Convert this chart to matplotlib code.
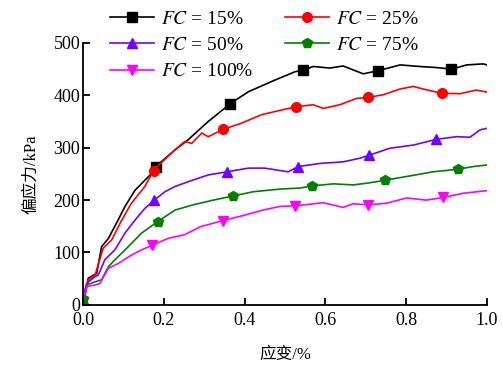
import numpy as np
import matplotlib
matplotlib.use("Agg")
import matplotlib.pyplot as plt

plt.rcParams['font.family'] = ['Liberation Serif', 'Noto Sans CJK SC']
plt.rcParams['mathtext.fontset'] = 'stix'

# strain (%) / deviator stress (kPa)
x15 = [0, 0.003, 0.013, 0.034, 0.046, 0.063, 0.087, 0.104, 0.129, 0.17, 0.18, 0.228, 0.26, 0.31, 0.368,
       0.41, 0.475, 0.525, 0.545, 0.57, 0.611, 0.644, 0.694, 0.731, 0.785, 0.834, 0.875, 0.913, 0.95, 0.991, 1.0]
y15 = [5, 10, 51, 60, 111, 127, 162, 188, 219, 251, 264, 296, 315, 350, 386,
       407, 429, 445, 448, 455, 452, 456, 441, 447, 458, 455, 453, 450, 458, 460, 458]

x25 = [0, 0.013, 0.03, 0.05, 0.071, 0.096, 0.12, 0.153, 0.177, 0.228, 0.252, 0.269, 0.294, 0.31, 0.347,
       0.393, 0.442, 0.492, 0.527, 0.57, 0.595, 0.636, 0.677, 0.706, 0.743, 0.785, 0.818, 0.842, 0.888,
       0.933, 0.974, 1.0]
y25 = [0, 48, 57, 108, 124, 162, 194, 226, 259, 296, 312, 308, 328, 321, 335,
       347, 363, 372, 378, 382, 375, 382, 394, 396, 401, 412, 417, 412, 404,
       403, 410, 406]

x50 = [0, 0.009, 0.03, 0.038, 0.054, 0.079, 0.104, 0.129, 0.153, 0.177, 0.203, 0.228, 0.26, 0.31, 0.356,
       0.41, 0.45, 0.508, 0.533, 0.587, 0.644, 0.686, 0.71, 0.76, 0.818, 0.875, 0.925, 0.958, 0.983, 1.0]
y50 = [15, 41, 54, 57, 86, 105, 137, 162, 184, 200, 216, 226, 235, 248, 254,
       261, 261, 254, 264, 270, 273, 280, 286, 299, 305, 316, 321, 320, 334, 337]

x75 = [0, 0.009, 0.03, 0.046, 0.063, 0.079, 0.112, 0.145, 0.185, 0.228, 0.273, 0.323, 0.372, 0.422,
       0.488, 0.537, 0.566, 0.62, 0.669, 0.71, 0.748, 0.801, 0.867, 0.929, 0.966, 1.0]
y75 = [12, 38, 44, 48, 73, 86, 111, 137, 159, 181, 191, 200, 208, 216,
       221, 223, 227, 231, 229, 233, 238, 245, 254, 259, 264, 267]

x100 = [0, 0.009, 0.03, 0.042, 0.063, 0.087, 0.12, 0.145, 0.172, 0.211, 0.252, 0.29, 0.347, 0.389,
        0.446, 0.488, 0.525, 0.595, 0.644, 0.669, 0.706, 0.752, 0.801, 0.85, 0.892, 0.941, 1.0]
y100 = [10, 35, 38, 41, 70, 79, 95, 105, 114, 127, 134, 149, 161, 169,
        181, 188, 189, 195, 186, 193, 191, 194, 204, 200, 205, 213, 218]

# where the symbols sit on each curve
m15 = [0.18, 0.365, 0.545, 0.73, 0.91]
m25 = [0.0, 0.175, 0.347, 0.527, 0.706, 0.888]
m50 = [0.177, 0.356, 0.533, 0.708, 0.875]
m75 = [0.0, 0.185, 0.372, 0.566, 0.748, 0.929]
m100 = [0.172, 0.347, 0.525, 0.706, 0.892]

labels = ['15%', '25%', '50%', '75%', '100%']
colors = ['black', '#ff0000', '#7300ff', '#008000', '#ff00ff']
markers = ['s', 'o', '^', 'p', 'v']

series = [(x15, y15, m15), (x25, y25, m25), (x50, y50, m50), (x75, y75, m75), (x100, y100, m100)]

fig = plt.figure(figsize=(5.03, 3.70), dpi=100)
ax = fig.add_axes([0.165, 0.176, 0.803, 0.708])

handles = []
for (xs, ys, ms), lab, c, mk in zip(series, labels, colors, markers):
    ax.plot(xs, ys, color=c, lw=1.2)
    ax.plot(ms, np.interp(ms, xs, ys), ls='none', marker=mk, color=c, ms=7)
    h, = ax.plot([], [], color=c, lw=1.2, marker=mk, ms=7, label='$FC$ = ' + lab)
    handles.append(h)

ax.set_xlim(0, 1.0)
ax.set_ylim(0, 500)
ax.set_xticks(np.arange(0, 1.01, 0.2))
ax.set_yticks(np.arange(0, 501, 100))
ax.xaxis.set_major_formatter(matplotlib.ticker.FormatStrFormatter('%.1f'))
ax.spines['top'].set_visible(False)
ax.spines['right'].set_visible(False)
for s in ['left', 'bottom']:
    ax.spines[s].set_linewidth(1.3)
ax.tick_params(direction='in', length=5, width=1.3, labelsize=13)
ax.tick_params(axis='y', pad=2)
ax.tick_params(axis='x', pad=5)

ax.set_xlabel('应变/%', fontsize=12, labelpad=13)
ax.set_ylabel('偏应力/kPa', fontsize=12, labelpad=10)

order = [0, 2, 4, 1, 3]
fig.legend([handles[i] for i in order], [handles[i].get_label() for i in order],
           ncol=2, loc='upper left', bbox_to_anchor=(0.183, 1.02), frameon=False,
           fontsize=14, handlelength=2.3, columnspacing=1.6, labelspacing=0.45,
           handletextpad=0.35)

fig.savefig('out.png', dpi=100)
